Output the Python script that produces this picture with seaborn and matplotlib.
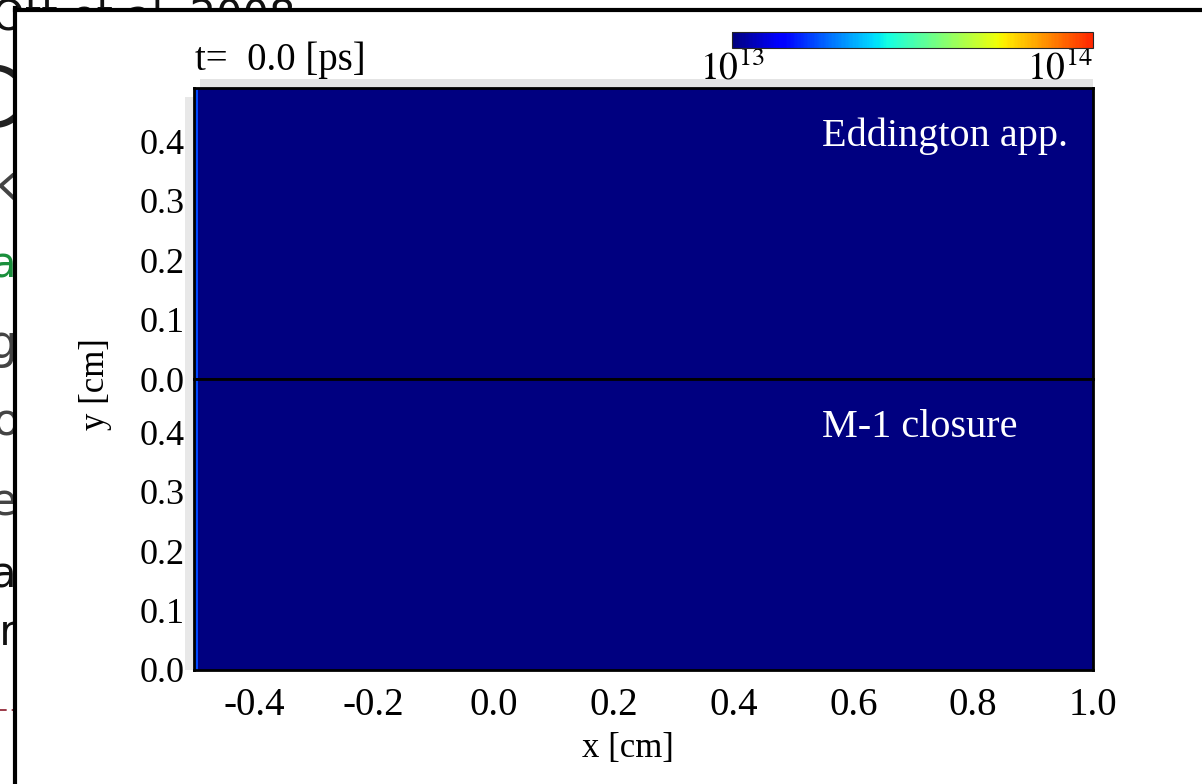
import numpy as np
import pandas as pd
import matplotlib
matplotlib.use("Agg")
import matplotlib.pyplot as plt
import seaborn as sns
from matplotlib.colors import LogNorm, ListedColormap
from matplotlib.lines import Line2D
from matplotlib.patches import Rectangle

# radiation energy density field at t = 0
time_ps = 0.0
x_min, x_max, dx = -0.5, 1.0, 0.0075
y_min, y_max, dy = 0.0, 0.49, 0.01
e_background = 1.0e13      # uniform dark blue
e_source = 1.7e13          # thin lighter column at the left boundary
panel_labels = ["Eddington app.", "M-1 closure"]

x_ticks = [-0.4, -0.2, 0.0, 0.2, 0.4, 0.6, 0.8, 1.0]
y_ticks = [0.0, 0.1, 0.2, 0.3, 0.4]
cbar_ticks = [1e13, 1e14]
cbar_labels = [r"$10^{13}$", r"$10^{14}$"]

# bits of the slide text that stick out left of the chart frame
frag_text = ["Ott et al. 2008", "C", "k", "a", "g", "o", "e", "a", "pr"]
frag_x = [-8, 18, 18, 16, 17, 20, 17, 16, 17]
frag_y = [30, 127, 200, 277, 358, 435, 515, 587, 645]
frag_size = [30, 60, 36, 30, 34, 32, 32, 30, 30]
frag_color = ["#111111", "#222222", "#444444", "#1a8f3c", "#444444",
              "#444444", "#444444", "#111111", "#111111"]

nx = int(round((x_max - x_min) / dx))
ny = int(round((y_max - y_min) / dy))
field = np.full((ny, nx), e_background)
field[:, 0] = e_source
df = pd.DataFrame(field)

# jet without its dark-red tail, as in the original colour bar
cmap = ListedColormap(plt.get_cmap("jet")(np.linspace(0, 0.87, 256)))

sns.set_style("ticks")
plt.rcParams["font.family"] = ["Liberation Serif", "DejaVu Serif"]
plt.rcParams["mathtext.fontset"] = "stix"
plt.rcParams["text.color"] = "black"

W, H = 1202, 784
fig = plt.figure(figsize=(W / 100, H / 100), dpi=100)


def fx(px):
    return px / W


def fy(py):
    return 1 - py / H


# slide fragments (behind the chart), then white chart area on top
for i, t in enumerate(frag_text):
    fig.text(fx(frag_x[i]), fy(frag_y[i]), t, ha="left" if i == 0 else "right",
             va="baseline", fontsize=frag_size[i], color=frag_color[i],
             family=["DejaVu Sans"], zorder=0)
fig.add_artist(Line2D([0, fx(14)], [fy(710), fy(710)], color="#8b1a2b",
                      lw=1.2, ls=(0, (4, 3)), zorder=0))
fig.add_artist(Rectangle((fx(15), 0), 1, fy(10), transform=fig.transFigure,
                         facecolor="white", edgecolor="none", zorder=1))
# faint grey halo around the image
fig.add_artist(Rectangle((fx(200), fy(88)), fx(1093 - 200), 9 / H,
                         transform=fig.transFigure, facecolor="#e4e4e4",
                         edgecolor="none", zorder=1.5))
fig.add_artist(Rectangle((fx(185), fy(670)), fx(8), (670 - 97) / H,
                         transform=fig.transFigure, facecolor="#e8e8e8",
                         edgecolor="none", zorder=1.5))

norm = LogNorm(vmin=cbar_ticks[0], vmax=cbar_ticks[1])
ax_left, ax_w = fx(194), fx(1093 - 194)
panel_tops = [88, 379]
panel_h = 291

for i, label in enumerate(panel_labels):
    ax = fig.add_axes([ax_left, fy(panel_tops[i] + panel_h), ax_w, panel_h / H])
    ax.set_zorder(2)
    sns.heatmap(df, ax=ax, cmap=cmap, norm=norm, cbar=False,
                xticklabels=False, yticklabels=False)
    ax.set_xlim(0, nx)
    ax.set_ylim(0, ny)
    for s in ax.spines.values():
        s.set_visible(True)
        s.set_color("black")
        s.set_linewidth(2)
    ax.set_xticks([(x - x_min) / dx for x in x_ticks])
    ax.set_xticklabels([f"{x:.1f}" for x in x_ticks])
    ax.set_yticks([(y - y_min) / dy for y in y_ticks])
    ax.set_yticklabels([f"{y:.1f}" for y in y_ticks])
    ax.tick_params(axis="x", direction="in", length=6, width=1.5, top=True,
                   bottom=True, color="black", labelcolor="black",
                   labelsize=28, pad=12, labelbottom=(i == 1))
    ax.tick_params(axis="y", direction="in", length=10, width=1.5, left=True,
                   right=True, color="black", labelcolor="black",
                   labelsize=26, pad=7)
    ax.set_xlabel("")
    ax.set_ylabel("")
    ax.text(0.699, 0.80, label, transform=ax.transAxes, ha="left",
            va="baseline", color="white", fontsize=29)

# colour bar
cax = fig.add_axes([fx(732), fy(48), fx(1093 - 732), 16 / H])
cax.set_zorder(2)
cb = fig.colorbar(plt.cm.ScalarMappable(norm=norm, cmap=cmap), cax=cax,
                  orientation="horizontal")
cb.outline.set_linewidth(0.8)
cb.set_ticks(cbar_ticks)
cb.set_ticklabels(cbar_labels)
cb.minorticks_off()
cax.tick_params(length=0, labelsize=27, pad=2, labelcolor="black")
tl = cax.get_xticklabels()
tl[1].set_ha("right")

fig.text(fx(195), fy(70), f"t= {time_ps:4.1f} [ps]", ha="left",
         va="baseline", fontsize=28, zorder=3)
fig.text(fx(96), fy(384), "y [cm]", rotation=90, ha="center", va="center",
         fontsize=25, zorder=3)
fig.text(fx(628), fy(749), "x [cm]", ha="center", va="center",
         fontsize=25, zorder=3)

# black frame of the picture on the slide
fig.add_artist(Line2D([fx(15), fx(15)], [0, fy(8)], color="black", lw=3,
                      solid_capstyle="projecting", zorder=3))
fig.add_artist(Line2D([fx(15), 1], [fy(10), fy(10)], color="black", lw=3,
                      solid_capstyle="projecting", zorder=3))

fig.savefig("out.png", dpi=100)
